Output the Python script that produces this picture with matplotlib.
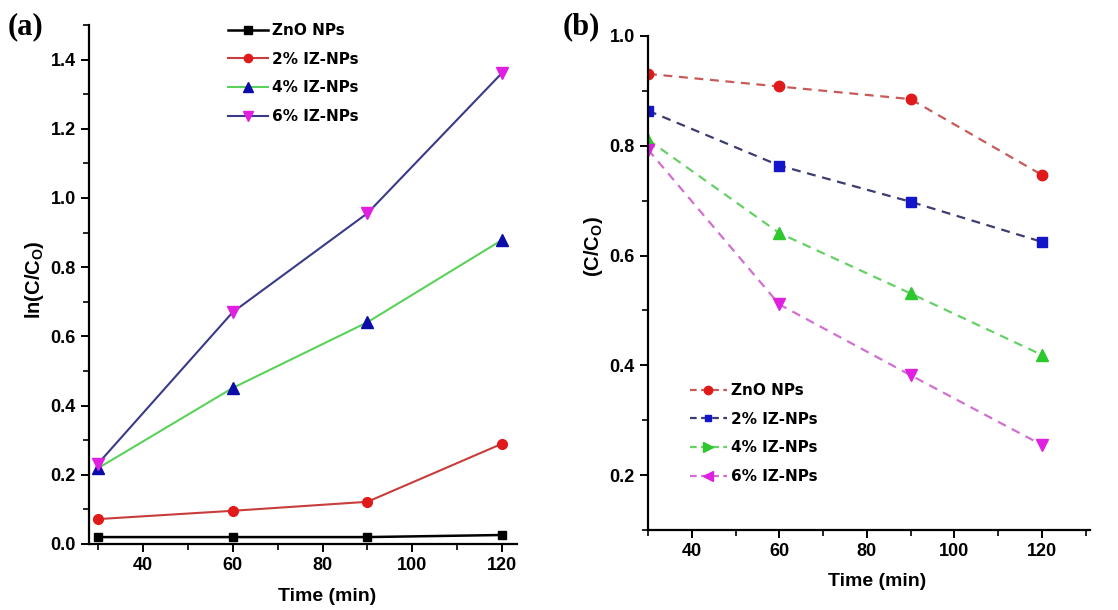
import numpy as np
import matplotlib
matplotlib.use('Agg')
import matplotlib.pyplot as plt
from matplotlib.lines import Line2D
from matplotlib.ticker import MultipleLocator, FormatStrFormatter

# Data
time_min = [30, 60, 90, 120]
series_labels = ['ZnO NPs', '2% IZ-NPs', '4% IZ-NPs', '6% IZ-NPs']

# (a) ln(C/Co) vs time
ln_zno = [0.02, 0.02, 0.02, 0.026]
ln_iz2 = [0.072, 0.096, 0.122, 0.290]
ln_iz4 = [0.219, 0.451, 0.641, 0.879]
ln_iz6 = [0.232, 0.670, 0.956, 1.362]

# (b) C/Co vs time
c_zno = [0.931, 0.908, 0.885, 0.747]
c_iz2 = [0.864, 0.764, 0.698, 0.625]
c_iz4 = [0.811, 0.641, 0.531, 0.419]
c_iz6 = [0.793, 0.511, 0.382, 0.255]

plt.rcParams['mathtext.fontset'] = 'custom'
plt.rcParams['mathtext.rm'] = 'Liberation Sans:bold'
plt.rcParams['mathtext.bf'] = 'Liberation Sans:bold'

tick_font = ['Liberation Sans Narrow', 'Liberation Sans', 'DejaVu Sans']
W, H = 1118, 610

fig = plt.figure(figsize=(W / 100, H / 100), dpi=100)


def px_axes(x0, x1, ytop, ybot):
    return fig.add_axes([x0 / W, 1 - ybot / H, (x1 - x0) / W, (ybot - ytop) / H])


def style_axis(ax, xlim, ylim, ystep):
    ax.set_xlim(*xlim)
    ax.set_ylim(*ylim)
    for s in ['top', 'right']:
        ax.spines[s].set_visible(False)
    for s in ['left', 'bottom']:
        ax.spines[s].set_linewidth(1.6)
    ax.xaxis.set_major_locator(MultipleLocator(20))
    ax.xaxis.set_minor_locator(MultipleLocator(10))
    ax.yaxis.set_major_locator(MultipleLocator(ystep))
    ax.yaxis.set_minor_locator(MultipleLocator(ystep / 2))
    ax.yaxis.set_major_formatter(FormatStrFormatter('%.1f'))
    ax.tick_params(which='major', direction='out', length=6, width=1.4)
    ax.tick_params(which='minor', direction='out', length=4, width=1.2)
    for lab in ax.get_xticklabels() + ax.get_yticklabels():
        lab.set_family(tick_font)
        lab.set_fontweight('bold')
        lab.set_fontsize(13)


# ---------------- panel (a) ----------------
ax1 = px_axes(89, 517, 25, 544)
ax1.plot(time_min, ln_zno, color='black', lw=1.8, marker='s', ms=6, mfc='black', mec='black', label=series_labels[0])
ax1.plot(time_min, ln_iz2, color='#c83c3c', lw=1.5, marker='o', ms=7, mfc='#e01a1a', mec='#e01a1a', label=series_labels[1])
ax1.plot(time_min, ln_iz4, color='#5ad25a', lw=1.5, marker='^', ms=8, mfc='#0c0ca8', mec='#0c0ca8', label=series_labels[2])
ax1.plot(time_min, ln_iz6, color='#3a3a88', lw=1.5, marker='v', ms=8, mfc='#e020e0', mec='#e020e0', label=series_labels[3])
style_axis(ax1, (28, 123.3), (0, 1.5), 0.2)
ax1.yaxis.set_minor_locator(MultipleLocator(0.1))
ax1.set_ylabel(r'ln(C/C$_{\mathbf{O}}$)', fontsize=14.5, fontweight='bold', family='Liberation Sans')
ax1.yaxis.set_label_coords(-0.1, 0.509)
ax1.set_xlabel('Time (min)', fontsize=14, fontweight='bold', family=tick_font)
ax1.xaxis.set_label_coords(0.557, -0.102)
ax1.xaxis.label.set_va('center')
ax1.legend(loc='upper left', bbox_to_anchor=(228 / W, 1 - 23 / H), bbox_transform=fig.transFigure,
           frameon=False, borderpad=0, borderaxespad=0, handlelength=2.6, handletextpad=0.3,
           labelspacing=0.9, markerscale=0.85, prop={'family': 'DejaVu Sans', 'weight': 'bold', 'size': 11})

# ---------------- panel (b) ----------------
ax2 = px_axes(648, 1090, 36, 530)
ax2.plot(time_min, c_zno, color='#c85a5a', lw=1.6, ls=(0, (4, 3)), marker='o', ms=7.5, mfc='#e01a1a', mec='#e01a1a')
ax2.plot(time_min, c_iz2, color='#3c3c70', lw=1.6, ls=(0, (4, 3)), marker='s', ms=6.5, mfc='#1414c8', mec='#1414c8')
ax2.plot(time_min, c_iz4, color='#66d066', lw=1.6, ls=(0, (4, 3)), marker='^', ms=8.5, mfc='#2ec82e', mec='#2ec82e')
ax2.plot(time_min, c_iz6, color='#d070d0', lw=1.6, ls=(0, (4, 3)), marker='v', ms=8.5, mfc='#e020e0', mec='#e020e0')
style_axis(ax2, (30, 131), (0.1, 1.0), 0.2)
ax2.yaxis.set_minor_locator(MultipleLocator(0.1))
ax2.set_ylabel(r'(C/C$_{\mathbf{O}}$)', fontsize=14.5, fontweight='bold', family='Liberation Sans')
ax2.yaxis.set_label_coords(-0.097, 0.573)
ax2.set_xlabel('Time (min)', fontsize=14, fontweight='bold', family=tick_font)
ax2.xaxis.set_label_coords(0.519, -0.105)
ax2.xaxis.label.set_va('center')

leg_handles = [
    Line2D([], [], color='#c85a5a', lw=1.6, ls=(0, (3, 2)), marker='o', ms=6, mfc='#e01a1a', mec='#e01a1a'),
    Line2D([], [], color='#3c3c70', lw=1.6, ls=(0, (3, 2)), marker='s', ms=5, mfc='#1414c8', mec='#1414c8'),
    Line2D([], [], color='#66d066', lw=1.6, ls=(0, (3, 2)), marker='>', ms=7, mfc='#2ec82e', mec='#2ec82e'),
    Line2D([], [], color='#d070d0', lw=1.6, ls=(0, (3, 2)), marker='<', ms=7, mfc='#e020e0', mec='#e020e0'),
]
ax2.legend(leg_handles, series_labels, loc='upper left', bbox_to_anchor=(690 / W, 1 - 383 / H),
           bbox_transform=fig.transFigure, frameon=False, borderpad=0, borderaxespad=0,
           handlelength=2.4, handletextpad=0.3, labelspacing=0.9,
           prop={'family': 'DejaVu Sans', 'weight': 'bold', 'size': 11})

# panel letters
fig.text(8 / W, 1 - 12 / H, '(a)', fontsize=22, fontweight='bold', family='Liberation Serif', va='top', ha='left')
fig.text(563 / W, 1 - 12 / H, '(b)', fontsize=22, fontweight='bold', family='Liberation Serif', va='top', ha='left')

fig.savefig('out.png', dpi=100)
